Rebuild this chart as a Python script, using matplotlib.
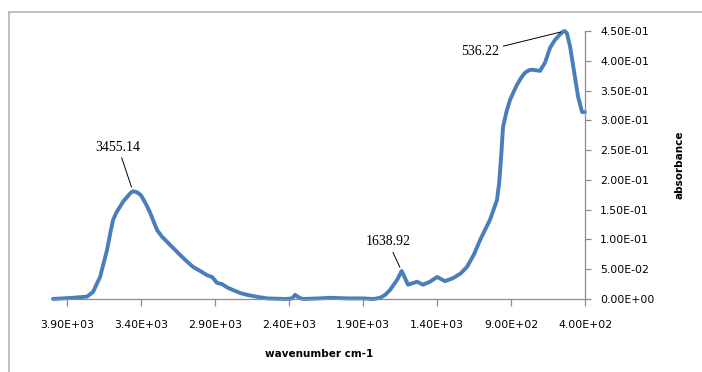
import matplotlib.pyplot as plt
from matplotlib.lines import Line2D
from matplotlib.ticker import FuncFormatter

# FTIR spectrum, read as (wavenumber, absorbance) pairs
wavenumber = [3995, 3930, 3860, 3765, 3724, 3677, 3630, 3610, 3589, 3565,
              3542, 3520, 3495, 3475, 3455.14, 3425, 3400, 3370, 3339, 3315,
              3292, 3260, 3224, 3180, 3136, 3090, 3049, 3000, 2954, 2920,
              2886, 2853, 2815, 2778, 2730, 2684, 2600, 2549, 2420, 2380,
              2359, 2330, 2305, 2200, 2123, 2000, 1900, 1830, 1785, 1750,
              1718, 1670, 1638.92, 1616, 1596, 1560, 1535, 1495, 1447, 1400,
              1346, 1292, 1240, 1197, 1150, 1109, 1042, 995, 980, 965,
              954, 930, 907, 880, 859, 830, 805, 780, 758, 730,
              704, 670, 636, 603, 570, 548, 536.22, 522, 501, 468,
              447, 420, 400]
absorbance = [0.000, 0.001, 0.002, 0.004, 0.012, 0.037, 0.082, 0.108, 0.133, 0.146,
              0.155, 0.164, 0.171, 0.177, 0.181, 0.179, 0.174, 0.161, 0.145, 0.130,
              0.116, 0.105, 0.096, 0.085, 0.074, 0.063, 0.054, 0.047, 0.040, 0.037,
              0.027, 0.025, 0.019, 0.015, 0.010, 0.007, 0.003, 0.001, 0.000, 0.001,
              0.007, 0.002, 0.000, 0.001, 0.002, 0.001, 0.001, 0.000, 0.002, 0.007,
              0.015, 0.032, 0.047, 0.035, 0.024, 0.027, 0.029, 0.024, 0.029, 0.037,
              0.030, 0.035, 0.043, 0.054, 0.075, 0.099, 0.133, 0.166, 0.195, 0.245,
              0.289, 0.315, 0.334, 0.349, 0.360, 0.372, 0.380, 0.384, 0.385, 0.384,
              0.383, 0.397, 0.422, 0.435, 0.444, 0.449, 0.450, 0.446, 0.424, 0.373,
              0.340, 0.314, 0.314]

peak_labels = ["3455.14", "1638.92", "536.22"]
peak_x = [3455.14, 1638.92, 536.22]
peak_y = [0.181, 0.047, 0.450]
label_x = [3555, 1731, 1109]
label_y = [0.255, 0.096, 0.415]

x_ticks = [3900, 3400, 2900, 2400, 1900, 1400, 900, 400]
y_ticks = [0.0, 0.05, 0.10, 0.15, 0.20, 0.25, 0.30, 0.35, 0.40, 0.45]

fig = plt.figure(figsize=(7.02, 3.72), dpi=100)
ax = fig.add_axes([53 / 702, 1 - 299 / 372, (585 - 53) / 702, (299 - 31) / 372])

ax.plot(wavenumber, absorbance, color="#4a7ebb", lw=2.8,
        solid_joinstyle="round", solid_capstyle="round", clip_on=False)

ax.set_xlim(3995, 400)
ax.set_ylim(0, 0.45)

# value axis sits on the right, like the spreadsheet chart
ax.yaxis.tick_right()
ax.yaxis.set_label_position("right")
for side in ("left", "top"):
    ax.spines[side].set_visible(False)
for side in ("right", "bottom"):
    ax.spines[side].set_color("#8c8c8c")
    ax.spines[side].set_linewidth(0.9)

sci = FuncFormatter(lambda v, pos: f"{v:.2E}")
ax.set_xticks(x_ticks)
ax.set_yticks(y_ticks)
ax.xaxis.set_major_formatter(sci)
ax.yaxis.set_major_formatter(sci)
ax.tick_params(axis="x", direction="out", length=5, width=0.9, color="#8c8c8c",
               labelsize=7.8, pad=10)
ax.tick_params(axis="y", direction="out", length=4, width=0.9, color="#8c8c8c",
               labelsize=7.8, pad=7)

ax.set_xlabel("wavenumber cm-1", fontsize=7.5, fontweight="bold", labelpad=14)
ax.set_ylabel("absorbance", fontsize=7.5, fontweight="bold", rotation=90,
              labelpad=14)

for txt, px, py, tx, ty in zip(peak_labels, peak_x, peak_y, label_x, label_y):
    ax.annotate(txt, xy=(px, py), xytext=(tx, ty), ha="center", va="center",
                fontsize=10, family="Liberation Serif", annotation_clip=False,
                arrowprops=dict(arrowstyle="-", color="black", lw=0.7,
                                shrinkA=1, shrinkB=3))

# chart area border (left and top edges show)
border = dict(color="#b4b4b4", lw=1.2, transform=fig.transFigure)
fig.add_artist(Line2D([9 / 702, 9 / 702], [0, 1 - 12 / 372], **border))
fig.add_artist(Line2D([9 / 702, 1], [1 - 12 / 372, 1 - 12 / 372], **border))

fig.savefig("out.png", dpi=100)
